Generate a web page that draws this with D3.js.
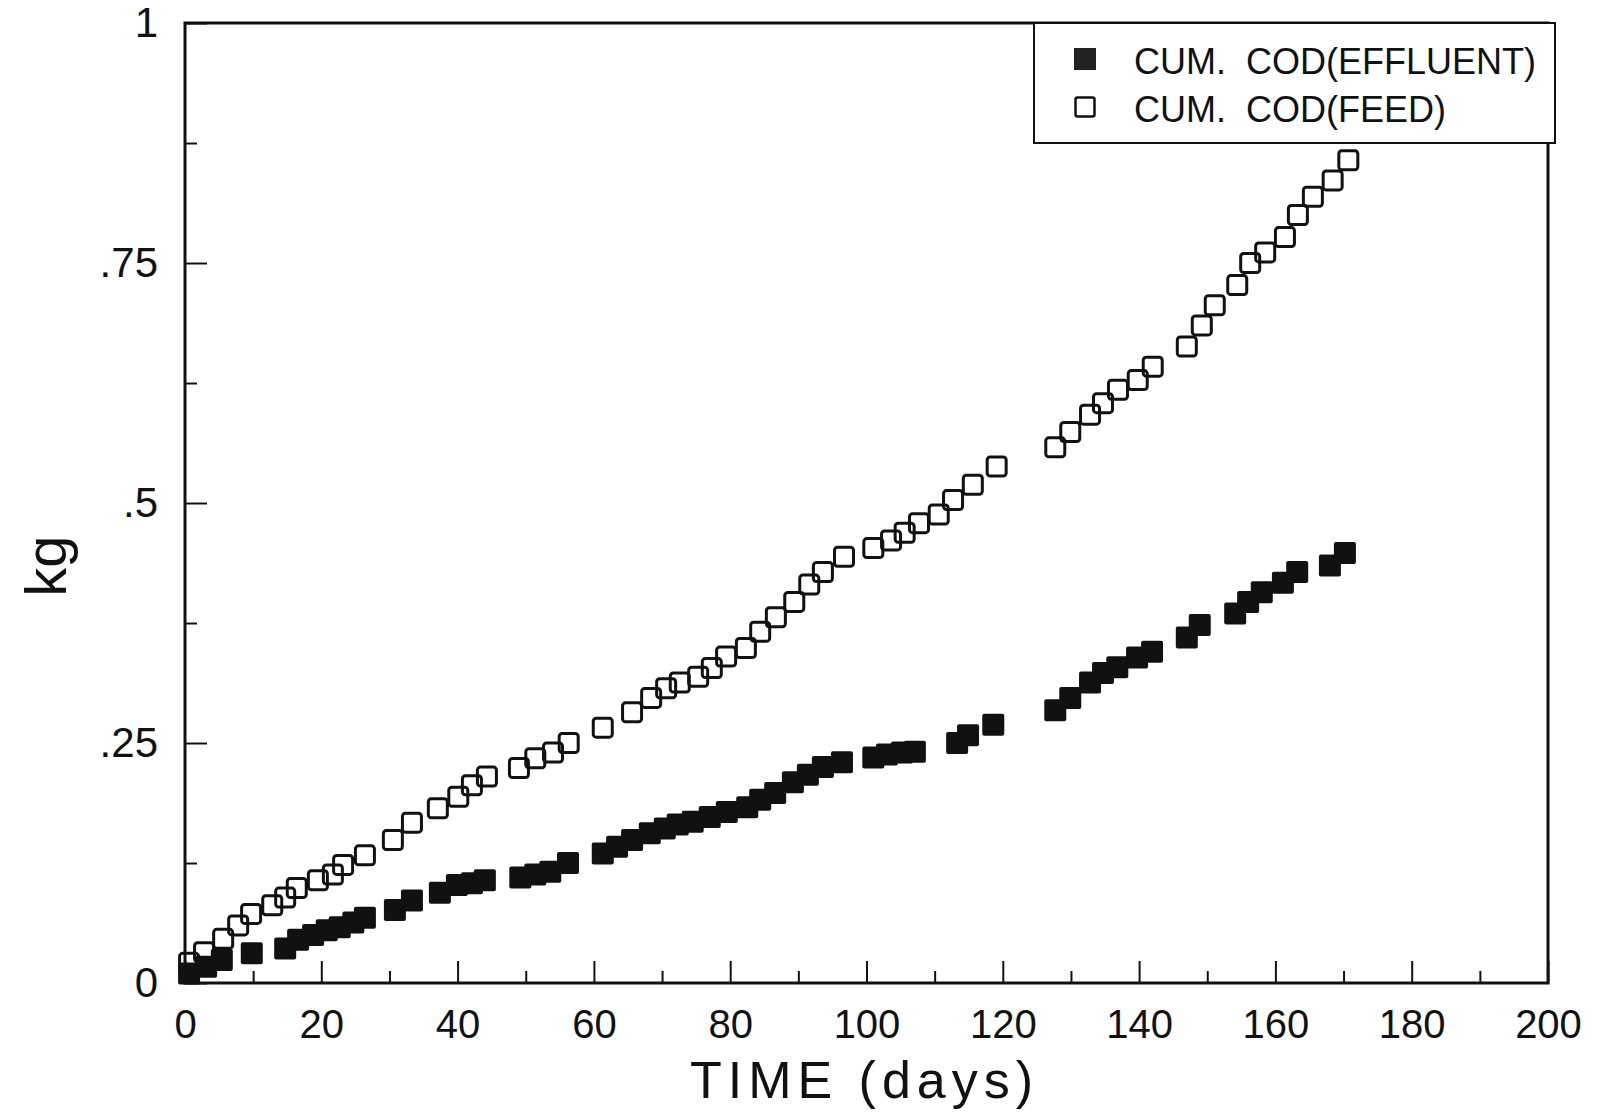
<!DOCTYPE html>
<html>
<head>
<meta charset="utf-8">
<script src="https://cdn.jsdelivr.net/npm/d3@7"></script>
<style>
    body { margin: 0; background: #fff; }
    svg text { font-family: "Liberation Sans", Arial, sans-serif; fill: #111; }
</style>
</head>
<body>
<div id="chart"></div>
<script>
// cumulative COD, feed (open squares)
var feedDays = [0.6, 2.8, 5.6, 7.8, 9.7, 12.8, 14.7, 16.4, 19.5, 21.7, 23.2, 26.4, 30.5, 33.3, 37.1, 40.1, 42.1, 44.3,
    49.0, 51.4, 54.0, 56.3, 61.3, 65.6, 68.4, 70.6, 72.6, 75.3, 77.3, 79.4, 82.3, 84.4, 86.7, 89.4, 91.6, 93.6,
    96.7, 101.0, 103.6, 105.6, 107.7, 110.6, 112.7, 115.6, 119.1,
    127.7, 129.9, 132.8, 134.7, 136.9, 139.8, 142.0, 147.0, 149.2, 151.1, 154.4, 156.3, 158.5, 161.4, 163.3, 165.5, 168.4, 170.7];
var feedKg = [0.021, 0.032, 0.046, 0.060, 0.072, 0.081, 0.089, 0.099, 0.107, 0.113, 0.123, 0.133, 0.149, 0.167, 0.182, 0.194, 0.206, 0.215,
    0.224, 0.234, 0.240, 0.250, 0.266, 0.282, 0.297, 0.307, 0.313, 0.319, 0.328, 0.340, 0.349, 0.366, 0.381, 0.397, 0.415, 0.428,
    0.444, 0.453, 0.461, 0.469, 0.479, 0.488, 0.503, 0.519, 0.538,
    0.558, 0.574, 0.592, 0.604, 0.618, 0.628, 0.642, 0.663, 0.685, 0.706, 0.727, 0.750, 0.761, 0.777, 0.800, 0.819, 0.836, 0.857];

// cumulative COD, effluent (filled squares)
var effDays = [0.6, 3.1, 5.4, 9.8, 14.7, 16.6, 18.8, 20.8, 22.7, 24.7, 26.4, 30.8, 33.3, 37.4, 39.9, 42.1, 44.0,
    49.2, 51.4, 53.6, 56.2, 61.3, 63.4, 65.6, 68.2, 70.4, 72.3, 74.5, 77.0, 79.5, 82.5, 84.4, 86.6, 89.2, 91.4, 93.6,
    96.4, 101.0, 103.0, 105.2, 107.1, 113.3, 114.9, 118.6,
    127.7, 129.9, 132.8, 134.7, 136.8, 139.7, 141.9, 147.0, 148.9, 154.1, 156.0, 158.0, 161.1, 163.2, 168.0, 170.2];
var effKg = [0.010, 0.017, 0.024, 0.031, 0.036, 0.045, 0.050, 0.055, 0.058, 0.063, 0.068, 0.076, 0.086, 0.094, 0.102, 0.104, 0.107,
    0.110, 0.113, 0.116, 0.125, 0.135, 0.142, 0.149, 0.156, 0.161, 0.165, 0.168, 0.173, 0.178, 0.183, 0.191, 0.198, 0.209, 0.217, 0.225,
    0.230, 0.235, 0.238, 0.240, 0.241, 0.250, 0.258, 0.269,
    0.284, 0.297, 0.313, 0.323, 0.329, 0.339, 0.345, 0.360, 0.373, 0.385, 0.397, 0.407, 0.417, 0.428, 0.435, 0.448];

var xTicks = [0, 20, 40, 60, 80, 100, 120, 140, 160, 180, 200];
var xMinor = [10, 30, 50, 70, 90, 110, 130, 150, 170, 190];
var yTicks = [0, 0.25, 0.5, 0.75, 1];
var yTickLabels = ["0", ".25", ".5", ".75", "1"];
var yMinor = [0.125, 0.375, 0.625, 0.875];

var legendLabels = ["CUM.  COD(EFFLUENT)", "CUM.  COD(FEED)"];

var width = 1598, height = 1118;
// plot box (window.top is read-only, so no bare "top" here)
var plotL = 185, plotR = 1548, plotT = 23, plotB = 983;

var x = d3.scaleLinear().domain([0, 200]).range([plotL, plotR]);
var y = d3.scaleLinear().domain([0, 1]).range([plotB, plotT]);

var svg = d3.select("#chart").append("svg")
    .attr("width", width)
    .attr("height", height);

// axes (ticks point inward)
var xAxis = svg.append("g")
    .attr("transform", "translate(0," + plotB + ")")
    .call(d3.axisBottom(x).tickValues(xTicks).tickSize(-22).tickPadding(27).tickFormat(d3.format("d")));
svg.append("g")
    .attr("transform", "translate(0," + plotB + ")")
    .call(d3.axisBottom(x).tickValues(xMinor).tickSize(-12).tickFormat(""));

var yAxis = svg.append("g")
    .attr("transform", "translate(" + plotL + ",0)")
    .call(d3.axisLeft(y).tickValues(yTicks).tickSize(-22).tickPadding(27)
        .tickFormat(function(d, i) { return yTickLabels[i]; }));
svg.append("g")
    .attr("transform", "translate(" + plotL + ",0)")
    .call(d3.axisLeft(y).tickValues(yMinor).tickSize(-12).tickFormat(""));

svg.selectAll(".domain").remove();
svg.selectAll(".tick line").attr("stroke", "#111").attr("stroke-width", 2);
xAxis.selectAll("text").attr("font-size", 40).attr("fill", "#111");
yAxis.selectAll("text").attr("font-size", 42).attr("fill", "#111");

// frame
svg.append("rect")
    .attr("x", plotL)
    .attr("y", plotT)
    .attr("width", plotR - plotL)
    .attr("height", plotB - plotT)
    .attr("fill", "none")
    .attr("stroke", "#111")
    .attr("stroke-width", 3);

// axis titles
svg.append("text")
    .attr("x", 690)
    .attr("y", 1098)
    .attr("font-size", 52)
    .attr("textLength", 343)
    .attr("lengthAdjust", "spacing")
    .text("TIME (days)");

svg.append("text")
    .attr("transform", "translate(66,566) rotate(-90)")
    .attr("text-anchor", "middle")
    .attr("font-size", 58)
    .text("kg");

var size = 22;

// feed: open squares
svg.append("g").selectAll("rect")
    .data(feedDays)
    .enter().append("rect")
    .attr("x", function(d) { return x(d) - size / 2 + 1.5; })
    .attr("y", function(d, i) { return y(feedKg[i]) - size / 2 + 1.5; })
    .attr("width", size - 3)
    .attr("height", size - 3)
    .attr("rx", 3)
    .attr("fill", "none")
    .attr("stroke", "#111")
    .attr("stroke-width", 3);

// effluent: filled squares
svg.append("g").selectAll("rect")
    .data(effDays)
    .enter().append("rect")
    .attr("x", function(d) { return x(d) - size / 2; })
    .attr("y", function(d, i) { return y(effKg[i]) - size / 2; })
    .attr("width", size)
    .attr("height", size)
    .attr("rx", 2)
    .attr("fill", "#111");

// legend
var legend = svg.append("g");
legend.append("rect")
    .attr("x", 1034)
    .attr("y", plotT)
    .attr("width", 521)
    .attr("height", 120)
    .attr("fill", "#fff")
    .attr("stroke", "#111")
    .attr("stroke-width", 2);

legend.append("rect")
    .attr("x", 1074)
    .attr("y", 48)
    .attr("width", 22)
    .attr("height", 22)
    .attr("fill", "#222");
legend.append("rect")
    .attr("x", 1075.5)
    .attr("y", 97.5)
    .attr("width", 19)
    .attr("height", 19)
    .attr("rx", 2)
    .attr("fill", "none")
    .attr("stroke", "#111")
    .attr("stroke-width", 2.5);

legend.selectAll("text.lab")
    .data(legendLabels)
    .enter().append("text")
    .attr("class", "lab")
    .attr("x", 1134)
    .attr("y", function(d, i) { return 74 + i * 48; })
    .attr("font-size", 36)
    .attr("xml:space", "preserve")
    .style("white-space", "pre")
    .text(function(d) { return d; });
</script>
</body>
</html>
